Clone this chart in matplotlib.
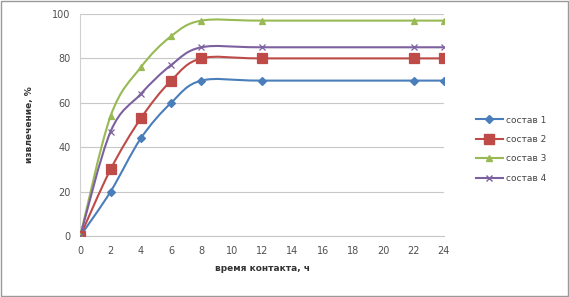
import matplotlib

matplotlib.use("Agg")
import matplotlib.pyplot as plt
from matplotlib.path import Path
from matplotlib.patches import PathPatch, Rectangle
from matplotlib.lines import Line2D

# данные
hours = [0, 2, 4, 6, 8, 12, 22, 24]
sostav_1 = [0, 20, 44, 60, 70, 70, 70, 70]
sostav_2 = [0, 30, 53, 70, 80, 80, 80, 80]
sostav_3 = [0, 54, 76, 90, 97, 97, 97, 97]
sostav_4 = [0, 47, 64, 77, 85, 85, 85, 85]
labels = ["состав 1", "состав 2", "состав 3", "состав 4"]
x_ticks = list(range(0, 25, 2))
y_ticks = [0, 20, 40, 60, 80, 100]

colors = ["#4A7EBB", "#BE4B48", "#98B954", "#7D60A0"]
markers = ["D", "s", "^", "x"]
msizes = [4, 6.5, 5, 4.5]


def smooth_path(xs, ys):
    # сглаживание как в Excel (кривые Безье)
    pts = list(zip(xs, ys))
    n = len(pts)
    verts = [pts[0]]
    codes = [Path.MOVETO]
    for i in range(n - 1):
        p0 = pts[i - 1] if i > 0 else pts[i]
        p1 = pts[i]
        p2 = pts[i + 1]
        p3 = pts[i + 2] if i + 2 < n else pts[i + 1]
        c1 = (p1[0] + (p2[0] - p0[0]) / 6, p1[1] + (p2[1] - p0[1]) / 6)
        c2 = (p2[0] - (p3[0] - p1[0]) / 6, p2[1] - (p3[1] - p1[1]) / 6)
        verts += [c1, c2, p2]
        codes += [Path.CURVE4] * 3
    return Path(verts, codes)


fig = plt.figure(figsize=(5.69, 2.97), dpi=100)
ax = fig.add_axes([0.141, 0.205, 0.639, 0.748])

series = [sostav_1, sostav_2, sostav_3, sostav_4]
handles = []
for vals, c, m, ms, lab in zip(series, colors, markers, msizes, labels):
    patch = PathPatch(smooth_path(hours, vals), facecolor="none",
                      edgecolor=c, lw=1.5, zorder=3)
    ax.add_patch(patch)
    ax.plot(hours, vals, ls="none", marker=m, ms=ms, color=c,
            mec=c, mew=0.9, zorder=4)
    handles.append(Line2D([0], [0], color=c, lw=1.5, marker=m,
                          ms=ms, mec=c, label=lab))

ax.set_xlim(0, 24)
ax.set_ylim(0, 100)
ax.set_xticks(x_ticks)
ax.set_yticks(y_ticks)
ax.tick_params(labelsize=7, colors="#505050", length=0, pad=7)
ax.grid(axis="y", color="#C8C8C8", lw=0.8)
ax.set_axisbelow(True)
for side in ["top", "right"]:
    ax.spines[side].set_visible(False)
ax.spines["left"].set_color("#D0D0D0")
ax.spines["bottom"].set_color("#C8C8C8")

ax.set_xlabel("время контакта, ч", fontsize=6.5, fontweight="bold",
              color="#333333", labelpad=6)
ax.set_ylabel("извлечение, %", fontsize=6.5, fontweight="bold",
              color="#333333", labelpad=13)

fig.legend(handles=handles, loc="upper left", bbox_to_anchor=(0.822, 0.638),
           frameon=False, fontsize=6.5, handlelength=3.0, handletextpad=0.3,
           labelspacing=1.15, labelcolor="#444444")

fig.patches.append(Rectangle((0.002, 0.004), 0.996, 0.992,
                             transform=fig.transFigure, fill=False,
                             edgecolor="#9A9A9A", lw=1.0))

plt.savefig("out.png", dpi=100)
plt.close(fig)
